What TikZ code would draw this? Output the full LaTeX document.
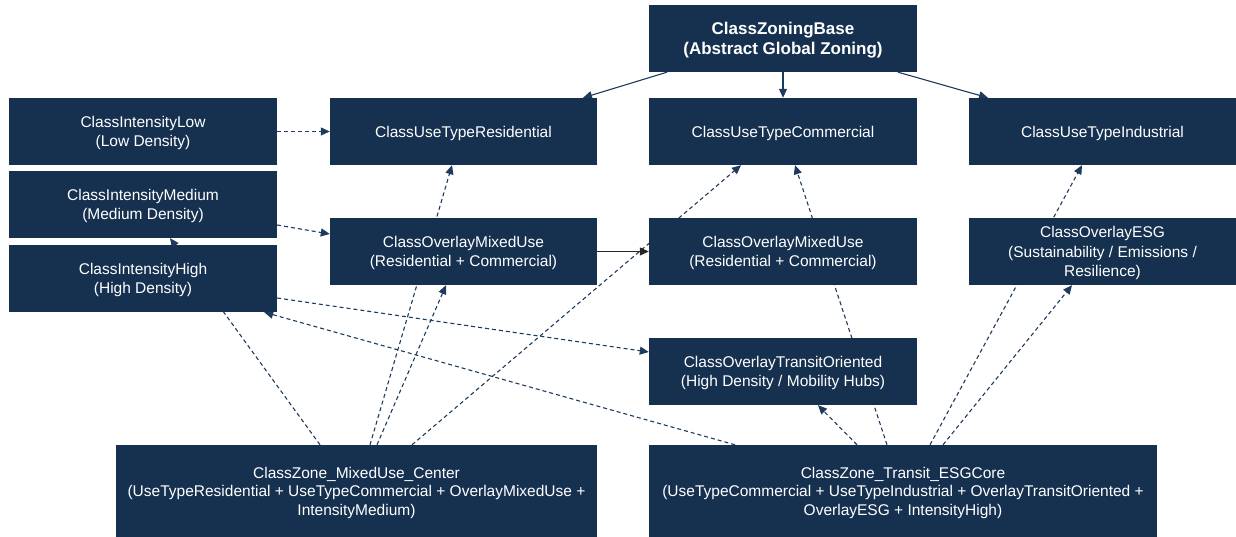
\documentclass[tikz,border=0pt]{standalone}
\usepackage{fontspec}
\setmainfont{Liberation Sans}
\usetikzlibrary{arrows.meta}
\definecolor{navy}{HTML}{16314F}
\definecolor{edgec}{HTML}{1E3A5C}
\pgfdeclarelayer{bg}
\pgfsetlayers{bg,main}
\begin{document}
\begin{tikzpicture}[x=1pt,y=-1pt,
  box/.style={draw=none,fill=navy,text=white,minimum width=#1,minimum height=67pt,inner sep=0pt,text depth=0pt,align=center,font=\fontsize{15.5}{19.5}\selectfont},
  box/.default=268pt,
  bigbox/.style={draw=none,fill=navy,text=white,minimum height=92pt,inner sep=0pt,text depth=0pt,align=center,font=\fontsize{15.5}{18.5}\selectfont},
  inh/.style={draw=edgec,line width=1.1pt,-{Triangle[length=9pt,width=8pt]}},
  dep/.style={draw=edgec,line width=1.1pt,dash pattern=on 4pt off 3pt,-{Triangle[length=9pt,width=8pt]}},
  lnk/.style={draw=black!85,line width=1.1pt,-{Triangle[length=9pt,width=8pt]}}]
\useasboundingbox (0,0) rectangle (1236,537);
\node[box] (zb) at (783,38.5) {\fontsize{17}{21}\selectfont\bfseries ClassZoningBase\\\fontsize{17}{21}\selectfont\bfseries (Abstract Global Zoning)};
\node[box=267pt] (res) at (463.5,131.5) {ClassUseTypeResidential};
\node[box] (com) at (783,131.5) {ClassUseTypeCommercial};
\node[box=267pt] (ind) at (1102.5,131.5) {ClassUseTypeIndustrial};
\node[box] (low) at (143,131.5) {ClassIntensityLow\\(Low Density)};
\node[box] (med) at (143,204.5) {ClassIntensityMedium\\(Medium Density)};
\node[box] (high) at (143,278.5) {ClassIntensityHigh\\(High Density)};
\node[box=267pt] (omxl) at (463.5,251.5) {ClassOverlayMixedUse\\(Residential + Commercial)};
\node[box] (omxr) at (783,251.5) {ClassOverlayMixedUse\\(Residential + Commercial)};
\node[box=267pt] (esg) at (1102.5,251.5) {ClassOverlayESG\\(Sustainability / Emissions /\\Resilience)};
\node[box] (tod) at (783,371.5) {ClassOverlayTransitOriented\\(High Density / Mobility Hubs)};
\node[bigbox,minimum width=481pt] (mc) at (356.5,491) {ClassZone\_MixedUse\_Center\\(UseTypeResidential + UseTypeCommercial + OverlayMixedUse +\\IntensityMedium)};
\node[bigbox,minimum width=508pt] (tec) at (903,491) {ClassZone\_Transit\_ESGCore\\(UseTypeCommercial + UseTypeIndustrial + OverlayTransitOriented +\\OverlayESG + IntensityHigh)};
\begin{pgfonlayer}{bg}
\draw[inh] ([xshift=-116pt]zb.south) -- ([xshift=119.5pt]res.north);
\draw[inh] (zb.south) -- (com.north);
\draw[inh] ([xshift=115pt]zb.south) -- ([xshift=-114.5pt]ind.north);
\draw[dep] (low.east) -- (res.west);
\draw[dep] ([yshift=-20.5pt]med.east) -- ([yshift=17.5pt]omxl.west);
\draw[dep] ([xshift=-36.5pt]mc.north) -- ([xshift=27pt]med.south);
\draw[dep] ([xshift=13.5pt]mc.north) -- ([xshift=-11.5pt]res.south);
\draw[dep] ([xshift=20.5pt]mc.north) -- ([xshift=-17.5pt]omxl.south);
\draw[dep] ([xshift=55.5pt]mc.north) -- ([xshift=-42pt]com.south);
\draw[lnk] (omxl.east) -- (omxr.west);
\draw[dep] ([yshift=-19.5pt]high.east) -- ([yshift=19.5pt]tod.west);
\draw[dep] ([xshift=-168pt]tec.north) -- ([xshift=-13pt]high.south east);
\draw[dep] ([xshift=-46pt]tec.north) -- ([xshift=35pt]tod.south);
\draw[dep] ([xshift=-16pt]tec.north) -- ([xshift=12pt]com.south);
\draw[dep] ([xshift=27pt]tec.north) -- ([xshift=-20.5pt]ind.south);
\draw[dep] ([xshift=40pt]tec.north) -- ([xshift=-30.5pt]esg.south);
\end{pgfonlayer}
\end{tikzpicture}
\end{document}
